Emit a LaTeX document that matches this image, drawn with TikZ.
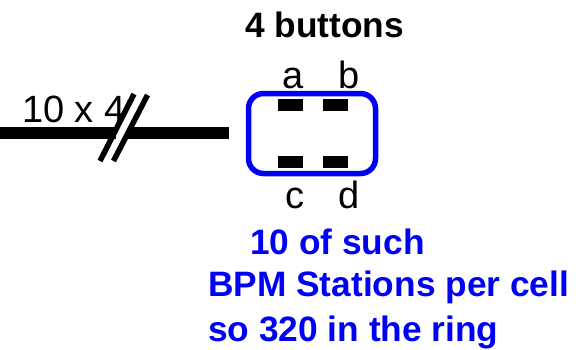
\documentclass[tikz,border=0pt]{standalone}
\usepackage{fontspec}
\setmainfont{Liberation Sans}
\definecolor{bpmblue}{RGB}{0,0,245}
\tikzset{
  lbl/.style={inner sep=0pt,font=\fontsize{38}{38}\selectfont,text=black},
  head/.style={inner sep=0pt,font=\fontsize{35.3}{35.3}\selectfont\bfseries,anchor=base west},
  note/.style={head,text=bpmblue},
  btn/.style={fill=black,draw=none,minimum width=25pt,minimum height=12pt,inner sep=0pt},
  cable/.style={line width=12.5pt,black},
  slash/.style={line width=5.5pt,black},
}
\begin{document}
\begin{tikzpicture}[x=1pt,y=-1pt]
\useasboundingbox (0,0) rectangle (586,349);
\node[head] (title) at (245,37) {4 buttons};
\node[lbl,anchor=base west] (count) at (22,122) {10 x 4};
\coordinate (c0) at (0,133);
\coordinate (c1) at (116,133);
\coordinate (c2) at (128,133);
\coordinate (c3) at (229,133);
\draw[cable] (c0) -- (c1);
\draw[cable] (c2) -- (c3);
\coordinate (s1a) at (100,161);
\coordinate (s1b) at (134,94);
\coordinate (s2a) at (113.5,161);
\coordinate (s2b) at (147.5,95);
\draw[slash] (s1a) -- (s1b);
\draw[slash] (s2a) -- (s2b);
\draw[draw=bpmblue,line width=5.5pt,rounded corners=15pt] (248.5,93.5) rectangle (375.5,173.5);
\node[btn] (ba) at (290.5,105) {};
\node[btn] (bb) at (335,105) {};
\node[btn] (bc) at (290.5,162) {};
\node[btn] (bd) at (335.5,162) {};
\node[lbl,anchor=base] (la) at (293.5,88) {a};
\node[lbl,anchor=base] (lb) at (349.5,88) {b};
\node[lbl,anchor=base] (lc) at (295,208) {c};
\node[lbl,anchor=base] (ld) at (349,208) {d};
\node[note] (n1) at (250,254) {10 of such};
\node[note] (n2) at (208,296) {BPM Stations per cell};
\node[note] (n3) at (208,341) {so 320 in the ring};
\end{tikzpicture}
\end{document}
